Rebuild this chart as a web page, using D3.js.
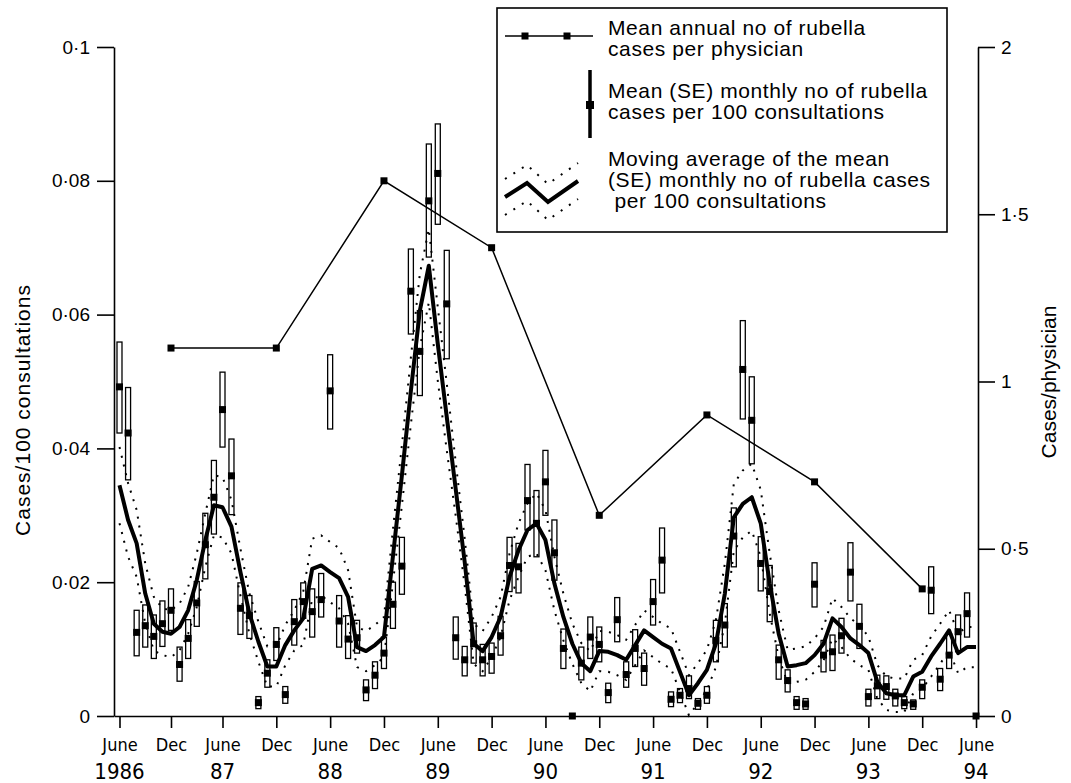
<!DOCTYPE html>
<html>
<head>
<meta charset="utf-8">
<script src="https://cdn.jsdelivr.net/npm/d3@7"></script>
<style>
    body { margin: 0; background: #fff; }
    text { font-family: "Liberation Sans", Arial, sans-serif; fill: #000; }
    .narrow { font-family: "DejaVu Sans Condensed", "Liberation Sans Narrow", "Arial Narrow", "Liberation Sans", sans-serif; font-stretch: condensed; }
</style>
</head>
<body>
<div id="chart"></div>
<script>

// months counted from June 1986 (0) to June 1994 (96)
const monthlyMean = [
    0.0492, 0.0423, 0.0125, 0.0135, 0.0119, 0.0138, 0.0158, 0.0077, 0.0116, 0.0169, 0.0256, 0.0327,
    0.0458, 0.0359, 0.0161, 0.0150, 0.0020, 0.0064, 0.0107, 0.0032, 0.0141, 0.0171, 0.0156, 0.0174,
    0.0486, 0.0142, 0.0115, 0.0117, 0.0039, 0.0061, 0.0094, 0.0167, 0.0224, 0.0635, 0.0545, 0.0770,
    0.0811, 0.0616, 0.0117, 0.0084, 0.0108, 0.0084, 0.0089, 0.0120, 0.0225, 0.0223, 0.0322, 0.0288,
    0.0350, 0.0244, 0.0101, 0, 0.0079, 0.0118, 0.0107, 0.0035, 0.0144, 0.0062, 0.0101, 0.0071,
    0.0171, 0.0233, 0.0025, 0.0031, 0.0041, 0.0019, 0.0031, 0.0113, 0.0136, 0.0269, 0.0518, 0.0442,
    0.0228, 0.0186, 0.0084, 0.0053, 0.0020, 0.0018, 0.0197, 0.0091, 0.0096, 0.0120, 0.0215, 0.0134,
    0.0029, 0.0045, 0.0044, 0.0030, 0.0020, 0.0018, 0.0043, 0.0188, 0.0055, 0.0091, 0.0126, 0.0153,
    0
];
const monthlyLow = [
    0.0423, 0.0353, 0.0090, 0.0103, 0.0086, 0.0104, 0.0128, 0.0052, 0.0086, 0.0134, 0.0205, 0.0272,
    0.0402, 0.0301, 0.0122, 0.0116, 0.0011, 0.0043, 0.0083, 0.0019, 0.0106, 0.0146, 0.0118, 0.0148,
    0.0429, 0.0103, 0.0086, 0.0094, 0.0023, 0.0041, 0.0071, 0.0131, 0.0182, 0.0571, 0.0479, 0.0686,
    0.0735, 0.0534, 0.0085, 0.0060, 0.0079, 0.0060, 0.0064, 0.0091, 0.0186, 0.0184, 0.0278, 0.0238,
    0.0300, 0.0203, 0.0071, 0, 0.0054, 0.0086, 0.0081, 0.0020, 0.0111, 0.0043, 0.0074, 0.0046,
    0.0136, 0.0184, 0.0014, 0.0020, 0.0026, 0.0010, 0.0019, 0.0081, 0.0103, 0.0223, 0.0444, 0.0377,
    0.0187, 0.0141, 0.0055, 0.0036, 0.0010, 0.0010, 0.0163, 0.0066, 0.0068, 0.0094, 0.0172, 0.0101,
    0.0015, 0.0026, 0.0025, 0.0015, 0.0011, 0.0010, 0.0026, 0.0153, 0.0038, 0.0071, 0.0096, 0.0118,
    0
];
const monthlyHigh = [
    0.0559, 0.0491, 0.0158, 0.0166, 0.0151, 0.0172, 0.0190, 0.0103, 0.0144, 0.0201, 0.0303, 0.0382,
    0.0514, 0.0414, 0.0199, 0.0180, 0.0029, 0.0084, 0.0132, 0.0044, 0.0174, 0.0199, 0.0190, 0.0213,
    0.0540, 0.0180, 0.0150, 0.0143, 0.0054, 0.0081, 0.0118, 0.0200, 0.0267, 0.0698, 0.0606, 0.0855,
    0.0885, 0.0696, 0.0148, 0.0104, 0.0139, 0.0107, 0.0109, 0.0149, 0.0267, 0.0258, 0.0376, 0.0337,
    0.0397, 0.0293, 0.0130, 0, 0.0103, 0.0148, 0.0133, 0.0049, 0.0177, 0.0081, 0.0129, 0.0094,
    0.0204, 0.0281, 0.0036, 0.0041, 0.0060, 0.0026, 0.0044, 0.0143, 0.0168, 0.0311, 0.0591, 0.0507,
    0.0268, 0.0225, 0.0106, 0.0069, 0.0029, 0.0026, 0.0229, 0.0113, 0.0121, 0.0146, 0.0259, 0.0167,
    0.0040, 0.0061, 0.0060, 0.0040, 0.0029, 0.0024, 0.0054, 0.0223, 0.0071, 0.0123, 0.0151, 0.0184,
    0
];

// moving average and its SE
const maMean = [
    0.0345, 0.0293, 0.0258, 0.0183, 0.0138, 0.0126, 0.0123, 0.0133, 0.0158, 0.0203, 0.0263, 0.0315,
    0.0312, 0.0283, 0.0215, 0.0153, 0.0111, 0.0074, 0.0074, 0.0106, 0.0128, 0.0146, 0.0220, 0.0225,
    0.0215, 0.0206, 0.0178, 0.0103, 0.0097, 0.0106, 0.0118, 0.0239, 0.0360, 0.0486, 0.0606, 0.0673,
    0.0556, 0.0447, 0.0339, 0.0230, 0.0108, 0.0097, 0.0118, 0.0148, 0.0208, 0.0248, 0.0278, 0.0288,
    0.0263, 0.0198, 0.0148, 0.0108, 0.0079, 0.0067, 0.0097, 0.0096, 0.0091, 0.0084, 0.0106, 0.0128,
    0.0118, 0.0108, 0.0101, 0.0066, 0.0031, 0.0049, 0.0069, 0.0108, 0.0183, 0.0297, 0.0317, 0.0327,
    0.0288, 0.0198, 0.0123, 0.0074, 0.0076, 0.0079, 0.0091, 0.0108, 0.0146, 0.0133, 0.0116, 0.0106,
    0.0094, 0.0051, 0.0034, 0.0031, 0.0031, 0.0059, 0.0066, 0.0089, 0.0108, 0.0128, 0.0094, 0.0103,
    0.0103
];
const maSE = [
    0.0057, 0.0055, 0.0050, 0.0045, 0.0040, 0.0035, 0.0035, 0.0035, 0.0035, 0.0040, 0.0040, 0.0045,
    0.0045, 0.0040, 0.0035, 0.0030, 0.0030, 0.0030, 0.0030, 0.0030, 0.0030, 0.0040, 0.0045, 0.0045,
    0.0045, 0.0045, 0.0040, 0.0030, 0.0030, 0.0030, 0.0030, 0.0040, 0.0045, 0.0050, 0.0055, 0.0055,
    0.0055, 0.0050, 0.0040, 0.0035, 0.0030, 0.0030, 0.0030, 0.0030, 0.0035, 0.0040, 0.0040, 0.0045,
    0.0045, 0.0040, 0.0035, 0.0030, 0.0030, 0.0030, 0.0030, 0.0030, 0.0030, 0.0030, 0.0030, 0.0030,
    0.0030, 0.0030, 0.0030, 0.0030, 0.0030, 0.0030, 0.0030, 0.0035, 0.0045, 0.0050, 0.0050, 0.0050,
    0.0050, 0.0045, 0.0035, 0.0025, 0.0025, 0.0025, 0.0025, 0.0025, 0.0030, 0.0030, 0.0030, 0.0030,
    0.0025, 0.0025, 0.0025, 0.0025, 0.0025, 0.0025, 0.0025, 0.0030, 0.0030, 0.0030, 0.0030, 0.0030,
    0.0030
];

// annual cases per physician, plotted at December of each year
const annualMonth = [6, 18, 30, 42, 54, 66, 78, 90];
const annualValue = [1.1, 1.1, 1.6, 1.4, 0.6, 0.9, 0.7, 0.38];

const monthTicks = [0, 6, 12, 18, 24, 30, 36, 42, 48, 54, 60, 66, 72, 78, 84, 90, 96];
const monthTickLabels = ["June", "Dec", "June", "Dec", "June", "Dec", "June", "Dec", "June",
    "Dec", "June", "Dec", "June", "Dec", "June", "Dec", "June"];
const yearMonth = [0, 12, 24, 36, 48, 60, 72, 84, 96];
const yearLabels = ["1986", "87", "88", "89", "90", "91", "92", "93", "94"];

const leftTicks = [0, 0.02, 0.04, 0.06, 0.08, 0.1];
const rightTicks = [0, 0.5, 1, 1.5, 2];

const legendLines = [
    ["Mean annual no of rubella", "cases per physician"],
    ["Mean (SE) monthly no of rubella", "cases per 100 consultations"],
    ["Moving average of the mean", "(SE) monthly no of rubella cases", " per 100 consultations"]
];

const W = 1071, H = 783;

const svg = d3.select("#chart")
    .append("svg")
    .attr("width", W)
    .attr("height", H);

// the original figure has a slightly shorter first year
const x = d3.scaleLinear().domain([-0.64, 12, 96.22]).range([114, 222.5, 978]);
const y = d3.scaleLinear().domain([0, 0.1]).range([716, 47]);
const y2 = d3.scaleLinear().domain([0, 2]).range([716, 47]);

const dotFmt = function (v) {
    return v === 0 ? "0" : String(+v.toFixed(2)).replace(".", "·");
};

// Axes
const leftAxis = svg.append("g")
    .attr("transform", "translate(114,0)")
    .call(d3.axisLeft(y).tickValues(leftTicks).tickFormat(dotFmt).tickSize(17).tickSizeOuter(0).tickPadding(7));
const rightAxis = svg.append("g")
    .attr("transform", "translate(978,0)")
    .call(d3.axisRight(y2).tickValues(rightTicks).tickFormat(dotFmt).tickSize(17).tickSizeOuter(0).tickPadding(6));
const bottomAxis = svg.append("g")
    .attr("transform", "translate(0,716)")
    .call(d3.axisBottom(x).tickValues(monthTicks)
        .tickFormat(function (d, i) { return monthTickLabels[i]; })
        .tickSize(12).tickSizeOuter(0).tickPadding(10));

[leftAxis, rightAxis, bottomAxis].forEach(function (a) {
    a.selectAll("path, line").attr("stroke", "#000").attr("stroke-width", 1.6);
    a.selectAll("text").style("font-family", null);
});
leftAxis.selectAll("text").style("font-size", "19px");
rightAxis.selectAll("text").style("font-size", "19px");
bottomAxis.selectAll("text").attr("class", "narrow").style("font-size", "18px");

svg.append("g").selectAll("text")
    .data(yearMonth)
    .enter().append("text")
    .attr("class", "narrow")
    .attr("x", function (d) { return x(d); })
    .attr("y", 779)
    .attr("text-anchor", "middle")
    .style("font-size", "22px")
    .text(function (d, i) { return yearLabels[i]; });

// axis titles
svg.append("text")
    .attr("transform", "translate(22,410) rotate(-90)")
    .attr("text-anchor", "middle")
    .attr("dominant-baseline", "central")
    .style("font-size", "21px")
    .style("letter-spacing", "1px")
    .text("Cases/100 consultations");

svg.append("text")
    .attr("transform", "translate(1048,382) rotate(-90)")
    .attr("text-anchor", "middle")
    .attr("dominant-baseline", "central")
    .style("font-size", "21px")
    .text("Cases/physician");

// monthly error bars
const months = d3.range(monthlyMean.length);
const bars = svg.append("g");
bars.selectAll("rect.se")
    .data(months.filter(function (m) { return monthlyMean[m] > 0; }))
    .enter().append("rect")
    .attr("class", "se")
    .attr("x", function (m) { return x(m) - 2.5; })
    .attr("y", function (m) { return y(monthlyHigh[m]); })
    .attr("width", 5)
    .attr("height", function (m) { return y(monthlyLow[m]) - y(monthlyHigh[m]); })
    .attr("fill", "#fff")
    .attr("stroke", "#000")
    .attr("stroke-width", 1.3);

// moving average band and line
const maLine = d3.line()
    .x(function (d, i) { return x(i); })
    .y(function (d) { return y(d); });

const upper = maMean.map(function (v, i) { return v + maSE[i]; });
const lower = maMean.map(function (v, i) { return Math.max(0, v - maSE[i]); });

const bandG = svg.append("g");
[upper, lower].forEach(function (band) {
    bandG.append("path")
        .attr("d", maLine(band))
        .attr("fill", "none")
        .attr("stroke", "#000")
        .attr("stroke-width", 2)
        .attr("stroke-dasharray", "2,7");
});

// monthly means
bars.selectAll("rect.mean")
    .data(months)
    .enter().append("rect")
    .attr("class", "mean")
    .attr("x", function (m) { return x(m) - 3.5; })
    .attr("y", function (m) { return y(monthlyMean[m]) - 3.5; })
    .attr("width", 7)
    .attr("height", 7)
    .attr("fill", "#000");

svg.append("path")
    .attr("d", maLine(maMean))
    .attr("fill", "none")
    .attr("stroke", "#000")
    .attr("stroke-width", 4)
    .attr("stroke-linejoin", "round");

// annual line
const annualLine = d3.line()
    .x(function (d, i) { return x(annualMonth[i]); })
    .y(function (d) { return y2(d); });

svg.append("path")
    .attr("d", annualLine(annualValue))
    .attr("fill", "none")
    .attr("stroke", "#000")
    .attr("stroke-width", 1.5);

svg.append("g").selectAll("rect")
    .data(annualValue)
    .enter().append("rect")
    .attr("x", function (d, i) { return x(annualMonth[i]) - 3.5; })
    .attr("y", function (d) { return y2(d) - 3.5; })
    .attr("width", 7)
    .attr("height", 7)
    .attr("fill", "#000");

// Legend
const lg = svg.append("g");
lg.append("rect")
    .attr("x", 497).attr("y", 8)
    .attr("width", 450).attr("height", 224)
    .attr("fill", "#fff")
    .attr("stroke", "#000")
    .attr("stroke-width", 1.6);

lg.append("line")
    .attr("x1", 505).attr("x2", 593).attr("y1", 36).attr("y2", 36)
    .attr("stroke", "#000").attr("stroke-width", 1.5);
[525, 567].forEach(function (cx) {
    lg.append("rect").attr("x", cx - 3.5).attr("y", 32.5).attr("width", 7).attr("height", 7).attr("fill", "#000");
});

lg.append("line")
    .attr("x1", 590).attr("x2", 590).attr("y1", 70).attr("y2", 138)
    .attr("stroke", "#000").attr("stroke-width", 3.5);
lg.append("rect").attr("x", 586).attr("y", 101).attr("width", 8).attr("height", 8).attr("fill", "#000");

const zig = [[505, 197], [527, 183], [548, 202], [578, 181]];
lg.append("path")
    .attr("d", d3.line()(zig))
    .attr("fill", "none").attr("stroke", "#000").attr("stroke-width", 4);
[-18, 18].forEach(function (off) {
    lg.append("path")
        .attr("d", d3.line()(zig.map(function (p) { return [p[0], p[1] + off]; })))
        .attr("fill", "none").attr("stroke", "#000").attr("stroke-width", 2)
        .attr("stroke-dasharray", "2,8");
});

const legendY = [[35, 56], [98, 119], [166, 187, 208]];
legendLines.forEach(function (rows, i) {
    rows.forEach(function (t, j) {
        lg.append("text")
            .attr("x", 608)
            .attr("y", legendY[i][j])
            .style("font-size", "21px")
            .style("letter-spacing", "0.6px")
            .style("white-space", "pre")
            .text(t);
    });
});

</script>
</body>
</html>
